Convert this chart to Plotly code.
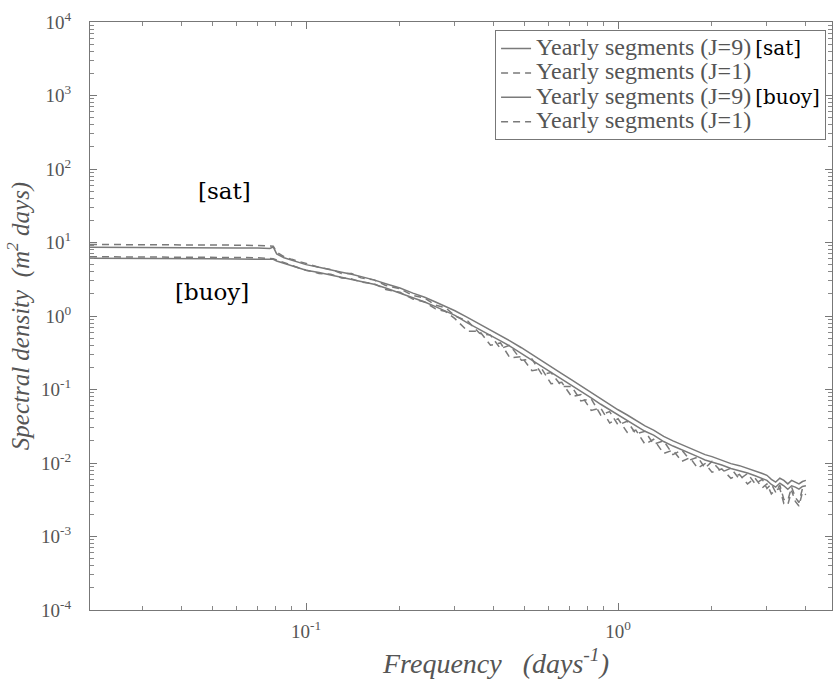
import plotly.graph_objects as go

freq = [0.0203, 0.03, 0.04, 0.05, 0.06, 0.07, 0.0765, 0.0785, 0.0805, 0.085, 0.09, 0.095,
        0.1, 0.11, 0.12, 0.13, 0.14, 0.15, 0.165, 0.18, 0.2, 0.22, 0.24, 0.26, 0.28, 0.3,
        0.33, 0.36, 0.39, 0.42, 0.45, 0.49, 0.53, 0.57, 0.61, 0.66, 0.71, 0.76, 0.82, 0.88,
        0.94, 1.0, 1.07, 1.14, 1.22, 1.3, 1.4, 1.5, 1.6, 1.7, 1.8, 1.9, 2.0, 2.15, 2.3,
        2.45, 2.6, 2.75, 2.9, 3.0, 3.1, 3.2, 3.3, 3.4, 3.5, 3.6, 3.7, 3.8, 3.9, 4.0]

sat_j9 = [8.6, 8.6, 8.55, 8.5, 8.45, 8.4, 8.3, 8.7, 7.0, 6.2, 5.7, 5.3,
          5.0, 4.6, 4.2, 3.95, 3.7, 3.45, 3.1, 2.75, 2.4, 2.05, 1.8, 1.55, 1.36, 1.18,
          0.95, 0.78, 0.64, 0.54, 0.46, 0.37, 0.30, 0.25, 0.205, 0.165, 0.135, 0.112, 0.09, 0.074,
          0.062, 0.053, 0.045, 0.038, 0.032, 0.028, 0.023, 0.020, 0.0178, 0.0158, 0.0143, 0.013, 0.0122, 0.011, 0.0098,
          0.0092, 0.0085, 0.0078, 0.0072, 0.0068, 0.0060, 0.0055, 0.0062, 0.0058, 0.0052, 0.0058, 0.0055, 0.0052, 0.0056, 0.0058]

sat_j1 = [9.4, 9.4, 9.35, 9.3, 9.2, 9.1, 9.0, 8.9, 7.4, 6.4, 5.9, 5.5,
          5.1, 4.6, 4.3, 3.8, 3.8, 3.3, 3.1, 2.6, 2.35, 1.9, 1.75, 1.4, 1.3, 1.0,
          0.85, 0.58, 0.55, 0.36, 0.40, 0.25, 0.26, 0.16, 0.17, 0.11, 0.11, 0.07, 0.075, 0.045,
          0.05, 0.033, 0.037, 0.025, 0.027, 0.018, 0.020, 0.013, 0.015, 0.011, 0.012, 0.0085, 0.0105, 0.0075, 0.0085,
          0.0060, 0.0072, 0.0052, 0.0060, 0.0045, 0.0052, 0.0040, 0.0050, 0.0032, 0.0031, 0.0047, 0.0034, 0.0029, 0.0045, 0.0042]

buoy_j9 = [6.1, 6.1, 6.05, 6.0, 5.95, 5.9, 5.85, 5.9, 5.6, 5.2, 4.8, 4.5,
           4.2, 3.9, 3.6, 3.4, 3.2, 3.0, 2.7, 2.4, 2.05, 1.78, 1.55, 1.34, 1.17, 1.02,
           0.80, 0.66, 0.54, 0.46, 0.39, 0.31, 0.255, 0.21, 0.175, 0.14, 0.115, 0.095, 0.077, 0.063,
           0.053, 0.045, 0.038, 0.032, 0.027, 0.024, 0.0196, 0.017, 0.0152, 0.0135, 0.0122, 0.011, 0.0104, 0.0094, 0.0084,
           0.0079, 0.0073, 0.0067, 0.0062, 0.0058, 0.0051, 0.0047, 0.0053, 0.0049, 0.0044, 0.0049, 0.0047, 0.0044, 0.0048, 0.0049]

buoy_j1 = [6.4, 6.4, 6.35, 6.3, 6.25, 6.2, 6.1, 6.0, 5.8, 5.3, 4.9, 4.5,
           4.2, 3.8, 3.7, 3.3, 3.2, 2.9, 2.75, 2.3, 2.1, 1.7, 1.55, 1.25, 1.15, 0.92,
           0.62, 0.62, 0.40, 0.43, 0.27, 0.28, 0.18, 0.19, 0.12, 0.125, 0.08, 0.085, 0.052, 0.056,
           0.035, 0.040, 0.026, 0.028, 0.018, 0.021, 0.0135, 0.015, 0.0105, 0.0118, 0.0085, 0.0098, 0.0075, 0.0083, 0.0062,
           0.0070, 0.0052, 0.0062, 0.0046, 0.0052, 0.0038, 0.0043, 0.0045, 0.0028, 0.0027, 0.0042, 0.0030, 0.0026, 0.0040, 0.0037]

x_major = [0.1, 1]
x_major_text = ["10<sup>-1</sup>", "10<sup>0</sup>"]
x_minor = [0.03, 0.04, 0.05, 0.06, 0.07, 0.08, 0.09, 0.2, 0.3, 0.4, 0.5, 0.6, 0.7, 0.8, 0.9, 2, 3, 4]
y_major = [1e-4, 1e-3, 1e-2, 1e-1, 1, 10, 100, 1e3, 1e4]
y_major_text = ["10<sup>-4</sup>", "10<sup>-3</sup>", "10<sup>-2</sup>", "10<sup>-1</sup>", "10<sup>0</sup>",
                "10<sup>1</sup>", "10<sup>2</sup>", "10<sup>3</sup>", "10<sup>4</sup>"]
y_minor = [m * 10 ** e for e in range(-4, 4) for m in range(2, 10)]

series_labels = ["Yearly segments (J=9)", "Yearly segments (J=1)", "Yearly segments (J=9)", "Yearly segments (J=1)"]
source_tags = ["[sat]", "", "[buoy]", ""]

big = "<span style='font-size:24px'>{}</span>"
tag = " <span style='color:#000;font-size:20px;font-family:DejaVu Serif'>{}</span>"
legend_names = [big.format(l) + (tag.format(t) if t else "") for l, t in zip(series_labels, source_tags)]

line_col = "#7a7a7a"
fig = go.Figure()
series = [sat_j9, sat_j1, buoy_j9, buoy_j1]
dashes = ["solid", "7px,5px", "solid", "7px,5px"]
for s, n, d in zip(series, legend_names, dashes):
    fig.add_trace(go.Scatter(x=freq, y=s, mode="lines", name=n,
                             line=dict(color=line_col, width=1.5, dash=d)))

axis_font = dict(family="Liberation Serif", size=19, color="#555")
fig.update_layout(
    width=834, height=682,
    margin=dict(l=90, r=2, t=22, b=72),
    paper_bgcolor="white", plot_bgcolor="white",
    font=dict(family="Liberation Serif", color="#555"),
    showlegend=True,
    legend=dict(x=0.992, y=0.986, xanchor="right", yanchor="top",
                bgcolor="white", bordercolor="#777", borderwidth=1,
                font=dict(family="Liberation Serif", size=16.5, color="#555"),
                tracegroupgap=0, itemwidth=30),
    xaxis=dict(type="log", range=[-1.6925, 0.6857], showgrid=False, zeroline=False,
               showline=True, linecolor="#777", linewidth=1.2, mirror="ticks",
               ticks="inside", ticklen=7, tickcolor="#777",
               tickmode="array", tickvals=x_major, ticktext=x_major_text,
               tickfont=axis_font, ticklabelstandoff=4,
               minor=dict(ticks="inside", ticklen=4, tickcolor="#888", tickvals=x_minor, showgrid=False)),
    yaxis=dict(type="log", range=[-4, 4], showgrid=False, zeroline=False,
               showline=True, linecolor="#777", linewidth=1.2, mirror="ticks",
               ticks="inside", ticklen=7, tickcolor="#777",
               tickmode="array", tickvals=y_major, ticktext=y_major_text,
               tickfont=axis_font, ticklabelstandoff=14,
               minor=dict(ticks="inside", ticklen=4, tickcolor="#888", tickvals=y_minor, showgrid=False),
               title=dict(text="<i>Spectral density&nbsp;&nbsp;(m<sup>2</sup> days)</i>",
                          font=dict(family="Liberation Serif", size=25, color="#555"), standoff=4)),
)

fig.add_annotation(x=0.546, y=-0.088, xref="paper", yref="paper", yanchor="middle",
                   text="<i>Frequency&nbsp;&nbsp;&nbsp;(days<sup>-1</sup>)</i>", showarrow=False,
                   font=dict(family="Liberation Serif", size=28, color="#555"))
fig.add_annotation(x=-1.26, y=1.70, xref="x", yref="y", text="[sat]", showarrow=False,
                   font=dict(family="DejaVu Serif", size=23, color="#000"))
fig.add_annotation(x=-1.30, y=0.327, xref="x", yref="y", text="[buoy]", showarrow=False,
                   font=dict(family="DejaVu Serif", size=23, color="#000"))

fig.write_html("out.html")
